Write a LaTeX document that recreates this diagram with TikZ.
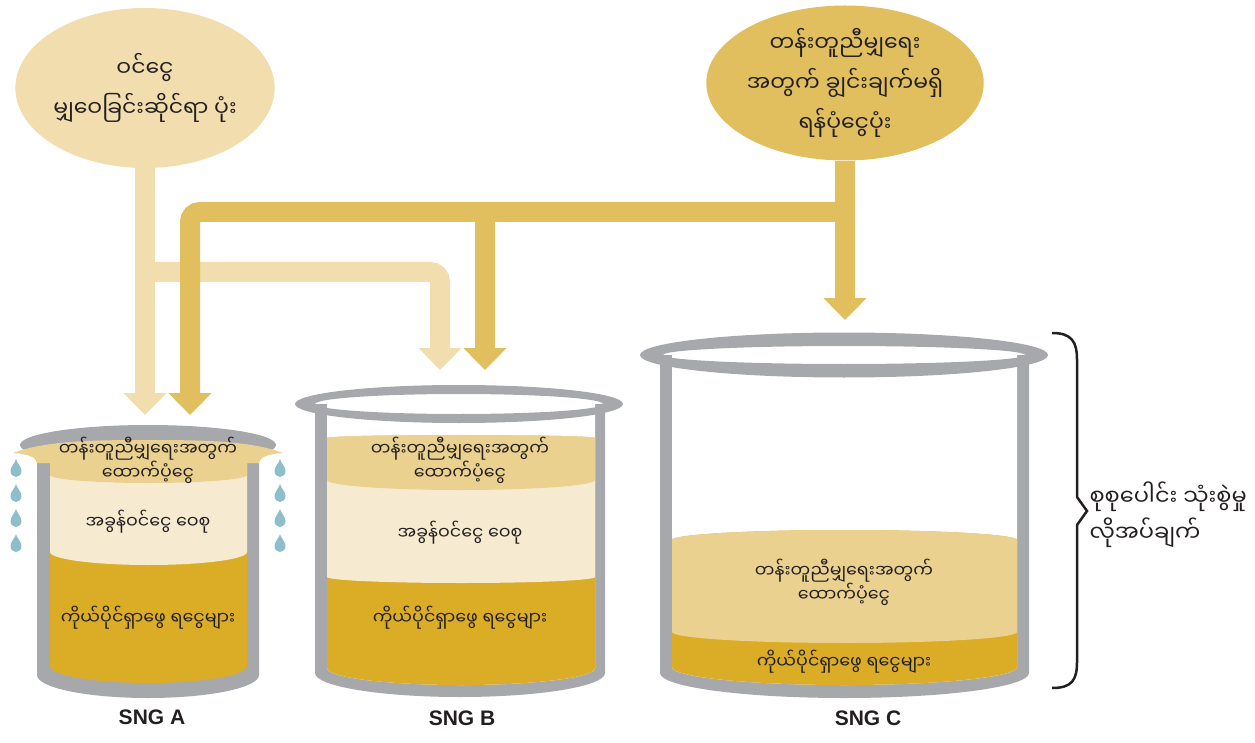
\documentclass[tikz,border=0pt]{standalone}
\usepackage{fontspec}
\setmainfont{Liberation Sans}
\newfontfamily\mya[Script=Myanmar]{Noto Sans Myanmar UI}
\usetikzlibrary{shapes.geometric,arrows.meta}
\definecolor{lightgold}{HTML}{F2DDAE}
\definecolor{midgold}{HTML}{E1BF5E}
\definecolor{topgold}{HTML}{EBD18F}
\definecolor{cream}{HTML}{F6EAD0}
\definecolor{deepgold}{HTML}{DBAC26}
\definecolor{potgrey}{HTML}{A7A8AC}
\definecolor{droplet}{HTML}{8EBDCB}
\definecolor{ink}{HTML}{231F20}
\tikzset{
    pipe/.style={line width=20pt,-{Triangle[width=42pt,length=22pt]},rounded corners=10pt},
    bubble/.style={ellipse,inner sep=0pt,minimum width=240pt,text=ink,align=center,font=\mya\fontsize{22}{40}\selectfont},
    layertext/.style={text=ink,align=center,font=\mya\fontsize{17.5}{24}\selectfont},
    potlabel/.style={text=ink,font=\bfseries\fontsize{21}{24}\selectfont},
    drop/.pic={\fill[droplet] (0,-9) .. controls (1,-5) and (5.5,-1) .. (5.5,3) .. controls (5.5,6.5) and (3,9) .. (0,9) .. controls (-3,9) and (-5.5,6.5) .. (-5.5,3) .. controls (-5.5,-1) and (-1,-5) .. cycle;}
}
\begin{document}
\begin{tikzpicture}[x=1pt,y=-1pt]
    \useasboundingbox (0,0) rectangle (1255,743);
    % pots
    \fill[potgrey] (37,450) -- (37,675) arc[start angle=180,end angle=0,x radius=111,y radius=23] -- (259,450) -- cycle;
    \begin{scope}
        \clip (50,440) -- (50,666) arc[start angle=180,end angle=0,x radius=98.5,y radius=17] -- (247,440) -- cycle;
        \fill[deepgold] (30,400) rectangle (270,700);
        \fill[cream] (50,440) -- (50,552) arc[start angle=180,end angle=0,x radius=98.5,y radius=13] -- (247,440) -- cycle;
    \end{scope}
    \fill[potgrey] (148,445) ellipse[x radius=128,y radius=20];
    \fill[topgold] (13,453) .. controls (45,441) and (90,440) .. (148,440) .. controls (206,440) and (251,441) .. (283,453)
        .. controls (268,454) and (260,457) .. (259,463) -- (247,463) -- (247,475)
        arc[start angle=0,end angle=180,x radius=98.5,y radius=8] -- (50,463) -- (37,463) .. controls (36,457) and (28,454) .. cycle;
    \foreach \y in {468,493,518,543} {
        \pic at (16,\y) {drop};
        \pic at (280,\y) {drop};
    }

    \fill[potgrey] (315,404) -- (315,673) arc[start angle=180,end angle=0,x radius=145,y radius=24] -- (605,404) -- cycle;
    \begin{scope}
        \clip (327,400) -- (327,668) arc[start angle=180,end angle=0,x radius=134,y radius=17] -- (595,400) -- cycle;
        \fill[white] (300,380) rectangle (620,700);
        \fill[deepgold] (327,438) arc[start angle=180,end angle=360,x radius=134,y radius=3] -- (595,700) -- (327,700) -- cycle;
        \fill[cream] (327,438) arc[start angle=180,end angle=360,x radius=134,y radius=3] -- (595,577)
            arc[start angle=0,end angle=180,x radius=134,y radius=6] -- cycle;
        \fill[topgold] (327,438) arc[start angle=180,end angle=360,x radius=134,y radius=3] -- (595,480)
            arc[start angle=0,end angle=180,x radius=134,y radius=10] -- cycle;
    \end{scope}
    \fill[potgrey,even odd rule] (459,404) ellipse[x radius=164,y radius=19] (459,404) ellipse[x radius=144,y radius=10];

    \fill[potgrey] (660,355) -- (660,673) arc[start angle=180,end angle=0,x radius=184.5,y radius=25] -- (1029,355) -- cycle;
    \begin{scope}
        \clip (672,355) -- (672,667) arc[start angle=180,end angle=0,x radius=172.5,y radius=18] -- (1017,355) -- cycle;
        \fill[white] (650,340) rectangle (1040,700);
        \fill[deepgold] (672,540) arc[start angle=180,end angle=360,x radius=172.5,y radius=10] -- (1017,700) -- (672,700) -- cycle;
        \fill[topgold] (672,540) arc[start angle=180,end angle=360,x radius=172.5,y radius=10] -- (1017,632)
            arc[start angle=0,end angle=180,x radius=172.5,y radius=11] -- cycle;
    \end{scope}
    \fill[potgrey,even odd rule] (844,355) ellipse[x radius=204,y radius=22.5] (844,355) ellipse[x radius=181,y radius=9];

    % layer texts
    \node[layertext] (grantA) at (148,460) {တန်းတူညီမျှရေးအတွက်\\ထောက်ပံ့ငွေ};
    \node[layertext] (shareA) at (148,522) {အခွန်ဝင်ငွေ ဝေစု};
    \node[layertext] (ownA) at (148,618) {ကိုယ်ပိုင်ရှာဖွေ ရငွေများ};
    \node[layertext] (grantB) at (460,460) {တန်းတူညီမျှရေးအတွက်\\ထောက်ပံ့ငွေ};
    \node[layertext] (shareB) at (460,533) {အခွန်ဝင်ငွေ ဝေစု};
    \node[layertext] (ownB) at (460,618) {ကိုယ်ပိုင်ရှာဖွေ ရငွေများ};
    \node[layertext] (grantC) at (844,582) {တန်းတူညီမျှရေးအတွက်\\ထောက်ပံ့ငွေ};
    \node[layertext] (ownC) at (844,662) {ကိုယ်ပိုင်ရှာဖွေ ရငွေများ};
    \node[potlabel] (sngA) at (152,717) {SNG A};
    \node[potlabel] (sngB) at (462,718) {SNG B};
    \node[potlabel] (sngC) at (868,718) {SNG C};

    % pools and pipes
    \node[bubble,fill=lightgold,minimum height=160pt] (pool) at (145,88) {ဝင်ငွေ\\မျှဝေခြင်းဆိုင်ရာ ပုံး};
    \node[bubble,fill=midgold,minimum height=155pt] (grant) at (845,83) {တန်းတူညီမျှရေး\\အတွက် ချွင်းချက်မရှိ\\ရန်ပုံငွေပုံး};
    \coordinate (forkL) at (145,272);
    \coordinate (forkR) at (845,212);
    \coordinate (forkM) at (485,212);
    \coordinate (tipA1) at (145,415);
    \coordinate (tipA2) at (190,415);
    \coordinate (tipB1) at (440,370);
    \coordinate (tipB2) at (485,370);
    \coordinate (tipC) at (845,320);
    \draw[pipe,lightgold] (pool.south) -- (tipA1);
    \draw[pipe,lightgold] (forkL) -| (tipB1);
    \draw[pipe,midgold] (grant.south) -- (tipC);
    \draw[pipe,midgold] (forkR) -| (tipA2);
    \draw[pipe,midgold] (forkM) -- (tipB2);

    % brace
    \draw[ink,line width=2.5pt] (1052,333) .. controls (1072,333) and (1077,342) .. (1077,360) -- (1077,497) -- (1087,511)
        -- (1077,525) -- (1077,662) .. controls (1077,680) and (1072,688) .. (1052,688);
    \node[anchor=west,align=left,text=ink,font=\mya\fontsize{22.5}{36}\selectfont] (need) at (1086,515) {စုစုပေါင်း သုံးစွဲမှု\\လိုအပ်ချက်};
\end{tikzpicture}
\end{document}
